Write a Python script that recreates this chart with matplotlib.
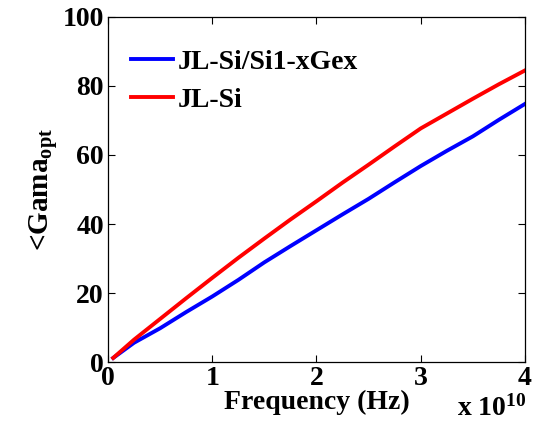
import matplotlib
matplotlib.use("Agg")
import matplotlib.pyplot as plt

# frequency in Hz, gamma_opt angle
freq = [0.05e10, 0.25e10, 0.5e10, 0.75e10, 1.0e10, 1.25e10, 1.5e10, 1.75e10, 2.0e10,
        2.25e10, 2.5e10, 2.75e10, 3.0e10, 3.25e10, 3.5e10, 3.75e10, 4.0e10]
gama_sige = [1.2, 5.6, 9.8, 14.5, 19.0, 23.8, 28.9, 33.6, 38.2,
             42.8, 47.3, 52.1, 56.8, 61.2, 65.4, 70.2, 74.8]
gama_si = [1.2, 6.5, 12.5, 18.5, 24.4, 30.2, 35.8, 41.3, 46.6,
           52.0, 57.2, 62.5, 67.7, 72.0, 76.3, 80.5, 84.5]
labels = ["JL-Si/Si1-xGex", "JL-Si"]

plt.rcParams["font.family"] = "Liberation Serif"
plt.rcParams["font.weight"] = "bold"
plt.rcParams["mathtext.fontset"] = "custom"
plt.rcParams["mathtext.rm"] = "Liberation Serif:bold"
plt.rcParams["mathtext.it"] = "Liberation Serif:bold"
plt.rcParams["mathtext.bf"] = "Liberation Serif:bold"
plt.rcParams["mathtext.default"] = "rm"

fig = plt.figure(figsize=(5.33, 4.23), dpi=100)
ax = fig.add_axes([0.2026, 0.144, 0.7824, 0.816])

ax.plot(freq, gama_sige, color="#0000ff", lw=2.8, label=labels[0])
ax.plot(freq, gama_si, color="#ff0000", lw=2.8, label=labels[1])

ax.set_xlim(0, 4e10)
ax.set_ylim(0, 100)
ax.set_xticks([0, 1e10, 2e10, 3e10, 4e10])
ax.set_xticklabels(["0", "1", "2", "3", "4"])
ax.set_yticks([0, 20, 40, 60, 80, 100])
ax.tick_params(direction="in", length=5, width=0.8, top=True, right=True,
               labelsize=20, pad=3)
for s in ax.spines.values():
    s.set_linewidth(0.9)

ax.set_xlabel("Frequency (Hz)", fontsize=20, fontweight="bold", labelpad=-1)
ax.set_ylabel("<Gama$_{opt}$", fontsize=21, fontweight="bold", labelpad=2)
fig.text(0.988, 0.004, "x 10$^{10}$", ha="right", va="bottom", fontsize=20, fontweight="bold")

ax.legend(loc="upper left", bbox_to_anchor=(0.055, 0.905), frameon=False,
          fontsize=20, handlelength=1.5, handletextpad=0.2, labelspacing=0.45,
          borderaxespad=0, borderpad=0)

plt.savefig("out.png", dpi=100)
